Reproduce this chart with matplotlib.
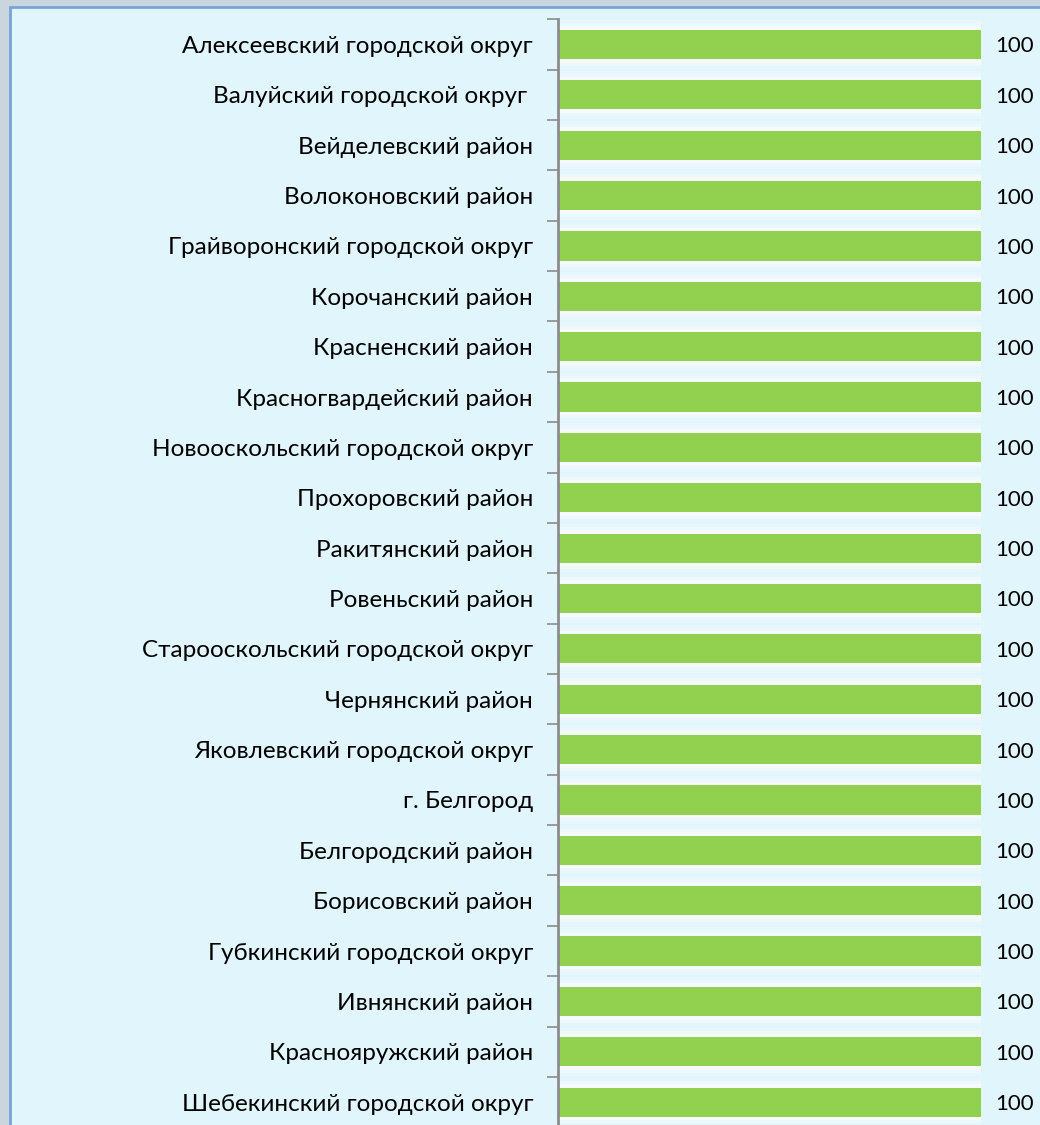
import numpy as np
import matplotlib.pyplot as plt
from matplotlib.patches import Rectangle

# districts, top to bottom
districts = [
    'Алексеевский городской округ',
    'Валуйский городской округ ',
    'Вейделевский район',
    'Волоконовский район',
    'Грайворонский городской округ',
    'Корочанский район',
    'Красненский район',
    'Красногвардейский район',
    'Новооскольский городской округ',
    'Прохоровский район',
    'Ракитянский район',
    'Ровеньский район',
    'Старооскольский городской округ',
    'Чернянский район',
    'Яковлевский городской округ',
    'г. Белгород',
    'Белгородский район',
    'Борисовский район',
    'Губкинский городской округ',
    'Ивнянский район',
    'Краснояружский район',
    'Шебекинский городской округ',
]
values = [100] * 22

plt.rcParams['font.family'] = ['Lato', 'DejaVu Sans']

W, H = 1040, 1125
fig = plt.figure(figsize=(W / 100, H / 100), dpi=100)
fig.patch.set_facecolor('#c9d6de')

# light blue panel with blue border
panel = Rectangle((10 / W, -0.01), 1.1, 1.01 - 7 / H, transform=fig.transFigure,
                  facecolor='#e1f5fd', edgecolor='#78a3d8', linewidth=2, zorder=-5)
fig.add_artist(panel)

# axes: left edge at x=558, rows from y=19 to 1127
x0, x1 = 558, 1045
y_top, y_bot = 19.3, 1127.3
ax = fig.add_axes([x0 / W, 1 - y_bot / H, (x1 - x0) / W, (y_bot - y_top) / H])
ax.set_facecolor('none')
ax.set_zorder(2)

n = len(districts)
y = np.arange(n)
xmax = 100 * (x1 - x0) / (981 - x0)

# soft white glow around bars
for h, a in [(0.96, 0.2), (0.84, 0.3), (0.72, 0.45)]:
    ax.barh(y, values, height=h, color='white', alpha=a, linewidth=0, zorder=1)
ax.barh(y, values, height=0.58, color='#92d050', linewidth=0, zorder=2)

for yi, v in zip(y, values):
    ax.text(v + 3.3, yi + 0.04, str(v), va='center', ha='left', fontsize=16, color='black')

ax.set_xlim(0, xmax)
ax.set_ylim(n - 0.5, -0.5)

ax.set_yticks(y)
ax.set_yticklabels(districts, fontsize=17.5)
ax.tick_params(axis='y', which='major', length=0, pad=18)
ax.set_yticks(np.arange(n + 1) - 0.5, minor=True)
ax.tick_params(axis='y', which='minor', length=8, width=1.2, color='#8c8c8c', direction='out')
ax.set_xticks([])

for s in ['top', 'right', 'bottom']:
    ax.spines[s].set_visible(False)
ax.spines['left'].set_color('#8c8c8c')
ax.spines['left'].set_linewidth(2)

fig.savefig('out.png', dpi=100, facecolor=fig.get_facecolor())
